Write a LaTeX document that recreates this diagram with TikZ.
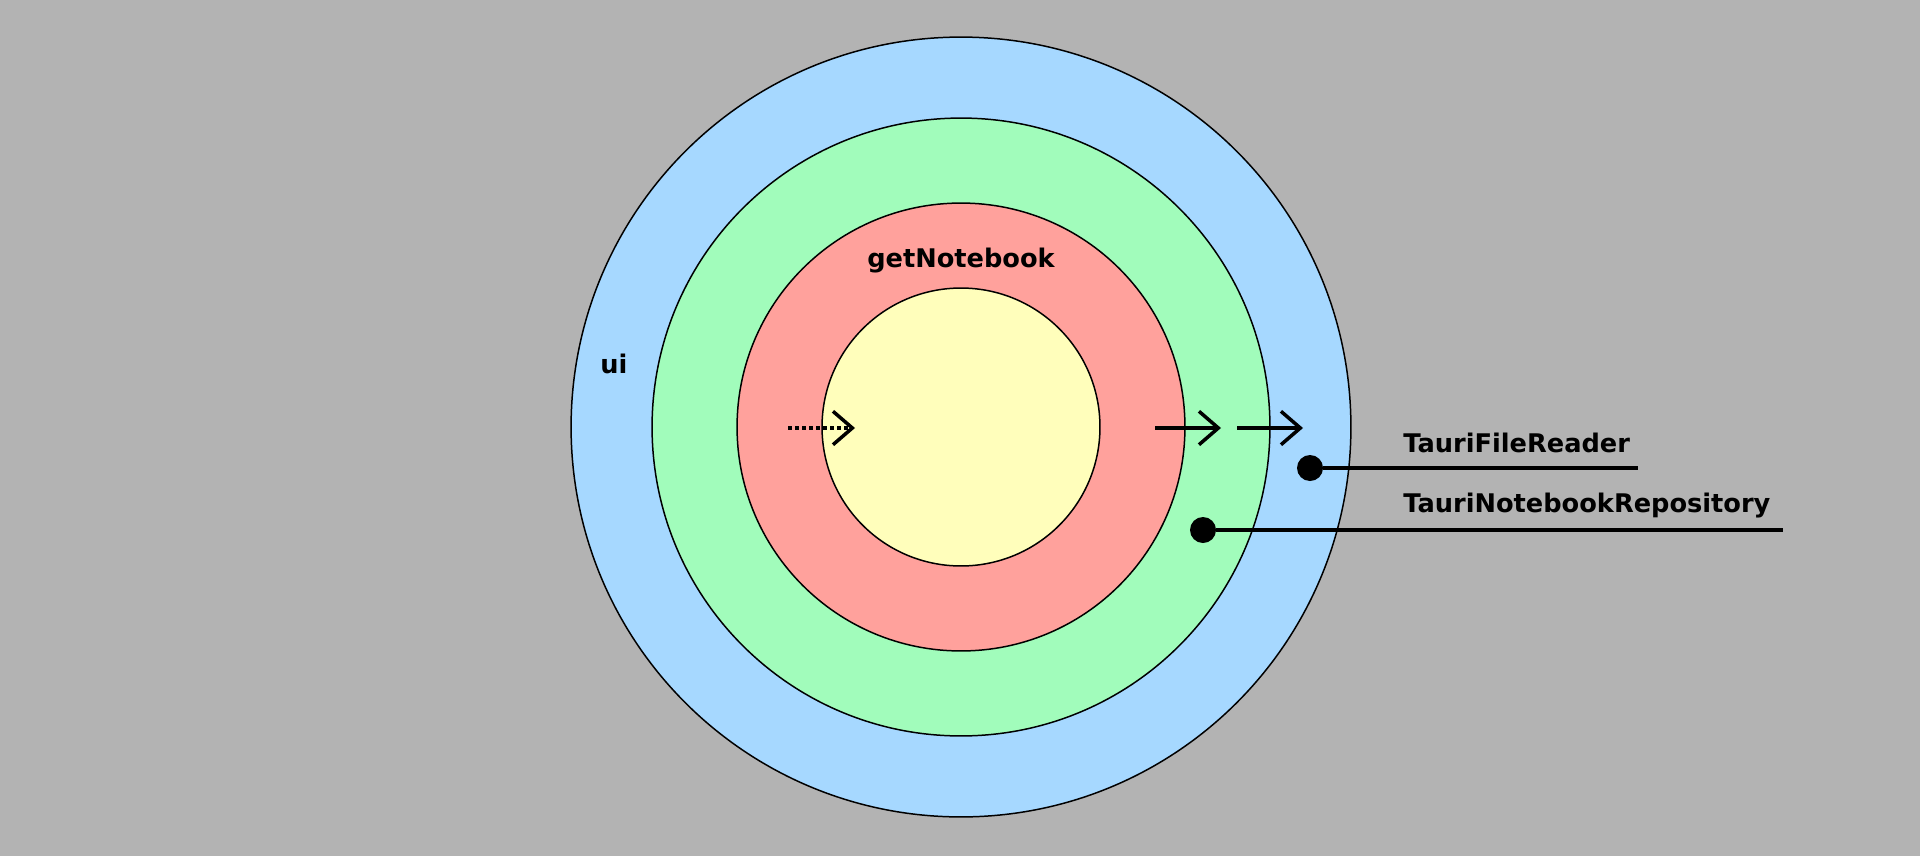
\documentclass[tikz,border=0pt]{standalone}
\usepackage{fontspec}
\setmainfont{DejaVu Sans}
\usetikzlibrary{arrows.meta, positioning}

\definecolor{bggray}{RGB}{179,179,179}
\definecolor{uiblue}{RGB}{166,216,255}
\definecolor{infragreen}{RGB}{161,252,187}
\definecolor{casered}{RGB}{255,161,156}
\definecolor{coreyellow}{RGB}{255,254,187}

\tikzset{
  layer/.style = {circle, draw=black, line width=0.85pt, inner sep=0pt},
  flow/.style  = {-{Straight Barb[length=11pt, width=19pt]}, line width=2pt},
  pin/.style   = {circle, fill=black, inner sep=0pt, minimum size=0.52cm},
  lbl/.style   = {font=\bfseries\fontsize{14.6}{18}\selectfont, inner sep=0pt}
}

\begin{document}
\begin{tikzpicture}[x=0.02cm, y=-0.02cm]
	% background
	\fill[bggray] (0,0) rectangle (1920,856);
	\useasboundingbox (0,0) rectangle (1920,856);

	% layers
	\node[layer, fill=uiblue, minimum size=15.6cm] (ui) at (961,427) {};
	\node[layer, fill=infragreen, minimum size=12.36cm] (infra) at (961,427) {};
	\node[layer, fill=casered, minimum size=8.96cm] (usecase) at (961,427) {};
	\node[layer, fill=coreyellow, minimum size=5.56cm] (core) at (961,427) {};

	\node[lbl] (uilbl) at (614,364) {ui};
	\node[lbl] (getnb) at (961,261) {getNotebook};

	% arrows
	\coordinate (dotstart) at (788,428);
	\coordinate (dotend) at (855,428);
	\coordinate (astart) at (1155,428);
	\coordinate (aend) at (1221,428);
	\coordinate (bstart) at (1237,428);
	\coordinate (bend) at (1303,428);
	\draw[flow, dash pattern=on 2.3pt off 1.7pt] (dotstart) -- (dotend);
	\draw[flow] (astart) -- (aend);
	\draw[flow] (bstart) -- (bend);

	% adapters
	\node[pin] (reader) at (1310,468) {};
	\node[pin] (repo) at (1203,530) {};
	\coordinate (readerend) at (1638,468);
	\coordinate (repoend) at (1783,530);
	\draw[line width=1.9pt] (reader) -- (readerend);
	\draw[line width=1.9pt] (repo) -- (repoend);
	\node[lbl, anchor=base west] (readerlbl) at (1403,452) {TauriFileReader};
	\node[lbl, anchor=base west] (repolbl) at (1403,512) {TauriNotebookRepository};
\end{tikzpicture}
\end{document}
